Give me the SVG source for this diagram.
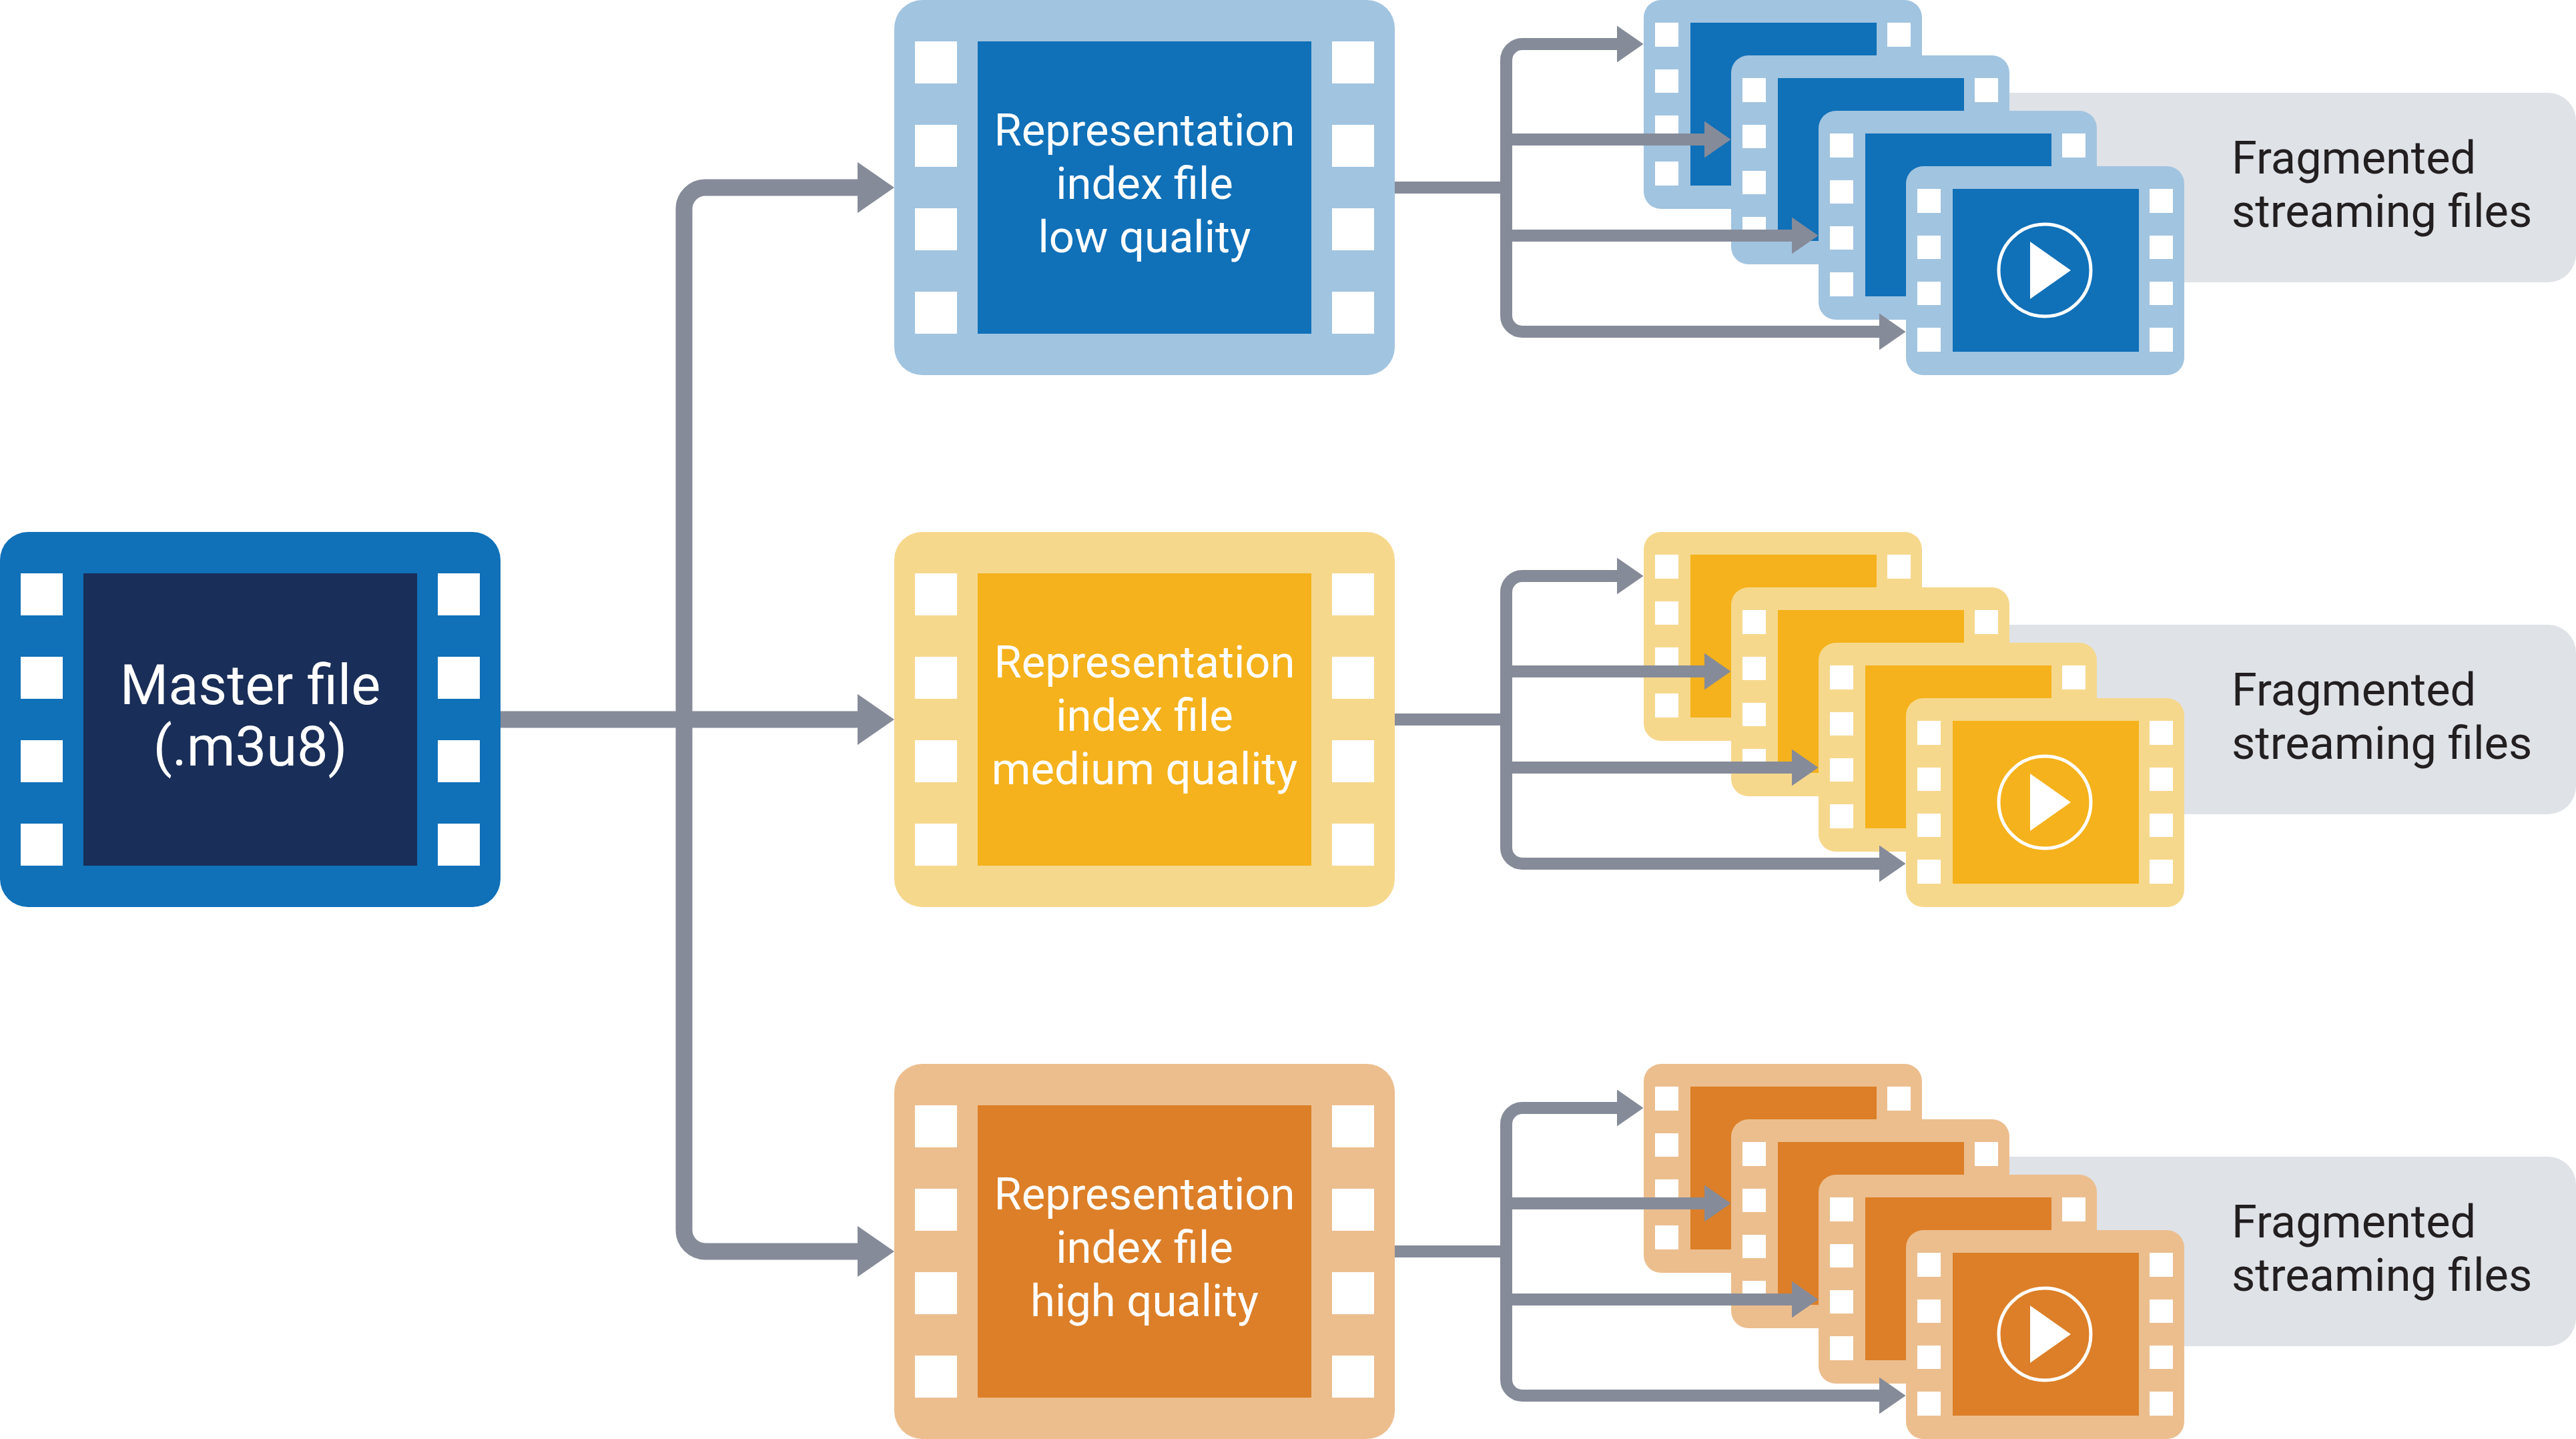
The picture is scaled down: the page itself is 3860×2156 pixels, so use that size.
<svg xmlns="http://www.w3.org/2000/svg" xmlns:xlink="http://www.w3.org/1999/xlink" width="3860" height="2156" viewBox="0 0 3860 2156">
<style>
text{font-family:Roboto,"Liberation Sans",sans-serif;text-anchor:middle}
.t{fill:#fff;font-size:67px;font-weight:400}
.m{fill:#fff;font-size:83px;font-weight:400}
.p{fill:#231f20;font-size:68.5px;font-weight:400;text-anchor:start}
.panel{fill:#dfe2e7}
.hole{fill:#fff}
.low .f{fill:#a1c4e0}.low .i{fill:#1070b8}
.med .f{fill:#f6d88d}.med .i{fill:#f5b21c}
.high .f{fill:#ecbe8e}.high .i{fill:#dc7f28}
.master .f{fill:#1070b8}.master .i{fill:#192e58}
.play{fill:none;stroke:#fff;stroke-width:5}
.tri{fill:#fff}
.c{fill:none;stroke:#868b99}
.c1{stroke-width:25;marker-end:url(#head)}
.c0{stroke-width:25}
.c2{stroke-width:18;marker-end:url(#head)}
.c3{stroke-width:18}
</style>
<defs>
<marker id="head" markerUnits="strokeWidth" markerWidth="2.2" markerHeight="3.05" refX="0" refY="15.25" viewBox="0 0 22 30.5" orient="auto"><path d="M0 0L22 15.25L0 30.5z" fill="#868b99"/></marker>
<g id="big-holes">
<rect class="hole" x="31" y="62" width="63" height="63"/><rect class="hole" x="31" y="187" width="63" height="63"/><rect class="hole" x="31" y="312" width="63" height="63"/><rect class="hole" x="31" y="437" width="63" height="63"/>
<rect class="hole" x="656" y="62" width="63" height="63"/><rect class="hole" x="656" y="187" width="63" height="63"/><rect class="hole" x="656" y="312" width="63" height="63"/><rect class="hole" x="656" y="437" width="63" height="63"/>
</g>
<g id="small-holes">
<rect class="hole" x="17" y="34" width="35" height="36"/><rect class="hole" x="17" y="104" width="35" height="35"/><rect class="hole" x="17" y="173" width="35" height="35"/><rect class="hole" x="17" y="242" width="35" height="36"/>
<rect class="hole" x="365" y="34" width="35" height="36"/><rect class="hole" x="365" y="104" width="35" height="35"/><rect class="hole" x="365" y="173" width="35" height="35"/><rect class="hole" x="365" y="242" width="35" height="36"/>
</g>
</defs>
<rect width="3860" height="2156" fill="#fff"/>

<g id="master" class="master">
<rect class="f" x="0" y="797" width="750" height="562" rx="42"/>
<rect class="i" x="125" y="859" width="500" height="438"/>
<use href="#big-holes" x="0" y="797"/>
<text class="m" x="375" y="1055">Master file</text>
<text class="m" x="375" y="1147">(.m3u8)</text>
</g>

<g id="rep-low" class="low">
<rect class="f" x="1340" y="0" width="750" height="562" rx="42"/>
<rect class="i" x="1465" y="62" width="500" height="438"/>
<use href="#big-holes" x="1340" y="0"/>
<text class="t" x="1715" y="218">Representation</text>
<text class="t" x="1715" y="298">index file</text>
<text class="t" x="1715" y="378">low quality</text>
</g>
<g id="rep-medium" class="med">
<rect class="f" x="1340" y="797" width="750" height="562" rx="42"/>
<rect class="i" x="1465" y="859" width="500" height="438"/>
<use href="#big-holes" x="1340" y="797"/>
<text class="t" x="1715" y="1015">Representation</text>
<text class="t" x="1715" y="1095">index file</text>
<text class="t" x="1715" y="1175">medium quality</text>
</g>
<g id="rep-high" class="high">
<rect class="f" x="1340" y="1594" width="750" height="562" rx="42"/>
<rect class="i" x="1465" y="1656" width="500" height="438"/>
<use href="#big-holes" x="1340" y="1594"/>
<text class="t" x="1715" y="1812">Representation</text>
<text class="t" x="1715" y="1892">index file</text>
<text class="t" x="1715" y="1972">high quality</text>
</g>

<g id="panel-low">
<rect class="panel" x="2900" y="139" width="960" height="284" rx="42"/>
<text class="p" x="3344" y="260">Fragmented</text>
<text class="p" x="3344" y="340">streaming files</text>
</g>
<g id="panel-medium">
<rect class="panel" x="2900" y="936" width="960" height="284" rx="42"/>
<text class="p" x="3344" y="1057">Fragmented</text>
<text class="p" x="3344" y="1137">streaming files</text>
</g>
<g id="panel-high">
<rect class="panel" x="2900" y="1733" width="960" height="284" rx="42"/>
<text class="p" x="3344" y="1854">Fragmented</text>
<text class="p" x="3344" y="1934">streaming files</text>
</g>

<g id="low-file-1" class="low"><rect class="f" x="2463" y="0" width="417" height="313" rx="26"/><rect class="i" x="2533" y="34" width="279" height="244"/><use href="#small-holes" x="2463" y="0"/></g>
<g id="low-file-2" class="low"><rect class="f" x="2594" y="83" width="417" height="313" rx="26"/><rect class="i" x="2664" y="117" width="279" height="244"/><use href="#small-holes" x="2594" y="83"/></g>
<g id="low-file-3" class="low"><rect class="f" x="2725" y="166" width="417" height="313" rx="26"/><rect class="i" x="2795" y="200" width="279" height="244"/><use href="#small-holes" x="2725" y="166"/></g>
<g id="low-file-4" class="low"><rect class="f" x="2856" y="249" width="417" height="313" rx="26"/><rect class="i" x="2926" y="283" width="279" height="244"/><use href="#small-holes" x="2856" y="249"/><circle class="play" cx="3064" cy="405" r="69"/><path class="tri" d="M3042 362L3103 405L3042 448z"/></g>

<g id="med-file-1" class="med"><rect class="f" x="2463" y="797" width="417" height="313" rx="26"/><rect class="i" x="2533" y="831" width="279" height="244"/><use href="#small-holes" x="2463" y="797"/></g>
<g id="med-file-2" class="med"><rect class="f" x="2594" y="880" width="417" height="313" rx="26"/><rect class="i" x="2664" y="914" width="279" height="244"/><use href="#small-holes" x="2594" y="880"/></g>
<g id="med-file-3" class="med"><rect class="f" x="2725" y="963" width="417" height="313" rx="26"/><rect class="i" x="2795" y="997" width="279" height="244"/><use href="#small-holes" x="2725" y="963"/></g>
<g id="med-file-4" class="med"><rect class="f" x="2856" y="1046" width="417" height="313" rx="26"/><rect class="i" x="2926" y="1080" width="279" height="244"/><use href="#small-holes" x="2856" y="1046"/><circle class="play" cx="3064" cy="1202" r="69"/><path class="tri" d="M3042 1159L3103 1202L3042 1245z"/></g>

<g id="high-file-1" class="high"><rect class="f" x="2463" y="1594" width="417" height="313" rx="26"/><rect class="i" x="2533" y="1628" width="279" height="244"/><use href="#small-holes" x="2463" y="1594"/></g>
<g id="high-file-2" class="high"><rect class="f" x="2594" y="1677" width="417" height="313" rx="26"/><rect class="i" x="2664" y="1711" width="279" height="244"/><use href="#small-holes" x="2594" y="1677"/></g>
<g id="high-file-3" class="high"><rect class="f" x="2725" y="1760" width="417" height="313" rx="26"/><rect class="i" x="2795" y="1794" width="279" height="244"/><use href="#small-holes" x="2725" y="1760"/></g>
<g id="high-file-4" class="high"><rect class="f" x="2856" y="1843" width="417" height="313" rx="26"/><rect class="i" x="2926" y="1877" width="279" height="244"/><use href="#small-holes" x="2856" y="1843"/><circle class="play" cx="3064" cy="1999" r="69"/><path class="tri" d="M3042 1956L3103 1999L3042 2042z"/></g>

<g id="connectors">
<path class="c c1" d="M750 1078H1285"/>
<path class="c c1" d="M1025 1078V313A32 32 0 0 1 1057 281H1285"/>
<path class="c c1" d="M1025 1078V1843A32 32 0 0 0 1057 1875H1285"/>

<path class="c c3" d="M2090 281H2257"/>
<path class="c c2" d="M2257 281V90A24 24 0 0 1 2281 66H2423"/>
<path class="c c2" d="M2257 209H2554"/>
<path class="c c2" d="M2257 353H2685"/>
<path class="c c2" d="M2257 281V473A24 24 0 0 0 2281 497H2816"/>

<path class="c c3" d="M2090 1078H2257"/>
<path class="c c2" d="M2257 1078V887A24 24 0 0 1 2281 863H2423"/>
<path class="c c2" d="M2257 1006H2554"/>
<path class="c c2" d="M2257 1150H2685"/>
<path class="c c2" d="M2257 1078V1270A24 24 0 0 0 2281 1294H2816"/>

<path class="c c3" d="M2090 1875H2257"/>
<path class="c c2" d="M2257 1875V1684A24 24 0 0 1 2281 1660H2423"/>
<path class="c c2" d="M2257 1803H2554"/>
<path class="c c2" d="M2257 1947H2685"/>
<path class="c c2" d="M2257 1875V2067A24 24 0 0 0 2281 2091H2816"/>
</g>
</svg>
